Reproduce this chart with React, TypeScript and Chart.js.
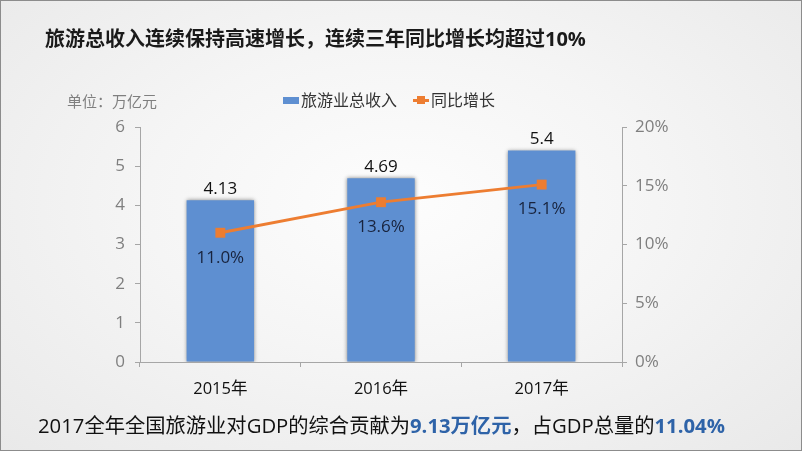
import React, { useEffect, useRef } from "react";
import { Chart, registerables } from "chart.js";

Chart.register(...registerables);

const categories = ["2015年", "2016年", "2017年"];
const revenue = [4.13, 4.69, 5.4];
const revenueLabels = ["4.13", "4.69", "5.4"];
const growth = [0.11, 0.136, 0.151];
const growthLabels = ["11.0%", "13.6%", "15.1%"];
const leftTicks = [0, 1, 2, 3, 4, 5, 6];
const rightTicks = [0, 0.05, 0.1, 0.15, 0.2];

const FONT = '"Open Sans", "Noto Sans CJK SC", sans-serif';
const BAR_COLOR = "#5E8FD1";
const LINE_COLOR = "#ED7D31";

const labelPlugin = {
  id: "valueLabels",
  afterDatasetsDraw(chart: any) {
    const ctx = chart.ctx;
    ctx.save();
    ctx.font = `17px ${FONT}`;
    ctx.textAlign = "center";
    const barMeta = chart.getDatasetMeta(0);
    barMeta.data.forEach((el: any, i: number) => {
      ctx.fillStyle = "#111111";
      ctx.textBaseline = "bottom";
      ctx.fillText(revenueLabels[i], el.x, el.y - 3);
    });
    const lineMeta = chart.getDatasetMeta(1);
    lineMeta.data.forEach((el: any, i: number) => {
      ctx.fillStyle = "#18233D";
      ctx.textBaseline = "middle";
      ctx.fillText(growthLabels[i], el.x, el.y + 25);
    });
    ctx.restore();
  },
};

const shadowPlugin = {
  id: "barShadow",
  beforeDatasetDraw(chart: any, args: any) {
    if (args.index === 0) {
      const ctx = chart.ctx;
      ctx.save();
      ctx.shadowColor = "rgba(0,0,0,0.45)";
      ctx.shadowBlur = 4;
      ctx.shadowOffsetX = 0;
      ctx.shadowOffsetY = 0;
    }
  },
  afterDatasetDraw(chart: any, args: any) {
    if (args.index === 0) chart.ctx.restore();
  },
};

export default function App() {
  const ref = useRef<HTMLCanvasElement | null>(null);

  useEffect(() => {
    if (!ref.current) return;
    const chart = new Chart(ref.current, {
      type: "bar",
      data: {
        labels: categories,
        datasets: [
          {
            type: "bar",
            label: "旅游业总收入",
            data: revenue,
            backgroundColor: BAR_COLOR,
            borderWidth: 0,
            barPercentage: 0.42,
            categoryPercentage: 1,
            yAxisID: "y",
            order: 2,
          },
          {
            type: "line",
            label: "同比增长",
            data: growth,
            borderColor: LINE_COLOR,
            backgroundColor: LINE_COLOR,
            borderWidth: 2.8,
            pointStyle: "rect",
            pointRadius: 7,
            pointBorderWidth: 0,
            yAxisID: "y1",
            order: 1,
          },
        ],
      },
      options: {
        responsive: false,
        animation: false,
        layout: { padding: { top: 127, bottom: 0, left: 0, right: 0 } },
        plugins: { legend: { display: false }, tooltip: { enabled: false } },
        scales: {
          x: {
            offset: true,
            grid: {
              display: true,
              offset: true,
              drawOnChartArea: false,
              tickLength: 5,
              color: "#A6A6A6",
            },
            border: { display: true, color: "#A6A6A6", width: 1 },
            ticks: {
              color: "#111111",
              font: { family: FONT, size: 16.5 },
              padding: 12,
            },
            afterFit(scale: any) {
              scale.height = 451 - 362;
            },
          },
          y: {
            position: "left",
            min: 0,
            max: 6,
            afterBuildTicks(scale: any) {
              scale.ticks = leftTicks.map((v) => ({ value: v }));
            },
            grid: { drawOnChartArea: false, tickLength: 5, color: "#A6A6A6" },
            border: { display: true, color: "#A6A6A6", width: 1 },
            ticks: {
              color: "#7F7F7F",
              font: { family: FONT, size: 17 },
              padding: 10,
            },
            afterFit(scale: any) {
              scale.width = 140;
            },
          },
          y1: {
            position: "right",
            min: 0,
            max: 0.2,
            afterBuildTicks(scale: any) {
              scale.ticks = rightTicks.map((v) => ({ value: v }));
            },
            grid: { drawOnChartArea: false, tickLength: 5, color: "#A6A6A6" },
            border: { display: true, color: "#A6A6A6", width: 1 },
            ticks: {
              color: "#7F7F7F",
              font: { family: FONT, size: 17 },
              padding: 8,
              callback: (v: any) => `${Math.round(Number(v) * 100)}%`,
            },
            afterFit(scale: any) {
              scale.width = 802 - 622;
            },
          },
        },
      },
      plugins: [shadowPlugin, labelPlugin],
    });
    return () => chart.destroy();
  }, []);

  return (
    <div
      style={{
        position: "fixed",
        left: 0,
        top: 0,
        width: 802,
        height: 451,
        boxSizing: "border-box",
        border: "1px solid #8C8C8C",
        background:
          "radial-gradient(ellipse at 50% 45%, #FDFDFD 0%, #F5F5F5 45%, #E9E9E9 100%)",
        fontFamily: FONT,
        overflow: "hidden",
      }}
    >
      <canvas
        ref={ref}
        width={802}
        height={451}
        style={{ position: "absolute", left: -1, top: -1, width: 802, height: 451 }}
      />
      <div
        style={{
          position: "absolute",
          left: 44,
          top: 24,
          fontSize: 20,
          fontWeight: 700,
          color: "#1A1A1A",
          whiteSpace: "nowrap",
          lineHeight: "28px",
        }}
      >
        旅游总收入连续保持高速增长，连续三年同比增长均超过10%
      </div>
      <div
        style={{
          position: "absolute",
          left: 66,
          top: 89,
          fontSize: 15,
          color: "#7F7F7F",
          whiteSpace: "nowrap",
          lineHeight: "22px",
        }}
      >
        单位：万亿元
      </div>
      <div
        style={{
          position: "absolute",
          left: 282,
          top: 88,
          fontSize: 16,
          color: "#333333",
          whiteSpace: "nowrap",
          lineHeight: "22px",
          display: "flex",
          alignItems: "center",
        }}
      >
        <span style={{ display: "inline-block", width: 16, height: 7, background: BAR_COLOR, marginRight: 2 }} />
        <span>旅游业总收入</span>
        <span style={{ position: "relative", display: "inline-block", width: 16, height: 10, marginLeft: 16, marginRight: 2 }}>
          <span style={{ position: "absolute", left: 0, top: 4, width: 16, height: 2.5, background: LINE_COLOR }} />
          <span style={{ position: "absolute", left: 4, top: 1, width: 8, height: 8, background: LINE_COLOR }} />
        </span>
        <span>同比增长</span>
      </div>
      <div
        style={{
          position: "absolute",
          left: 37,
          top: 410,
          fontSize: 20.3,
          color: "#111111",
          whiteSpace: "nowrap",
          lineHeight: "28px",
        }}
      >
        2017全年全国旅游业对GDP的综合贡献为
        <span style={{ color: "#2E63A8", fontWeight: 700 }}>9.13万亿元</span>
        ，占GDP总量的
        <span style={{ color: "#2E63A8", fontWeight: 700 }}>11.04%</span>
      </div>
    </div>
  );
}
